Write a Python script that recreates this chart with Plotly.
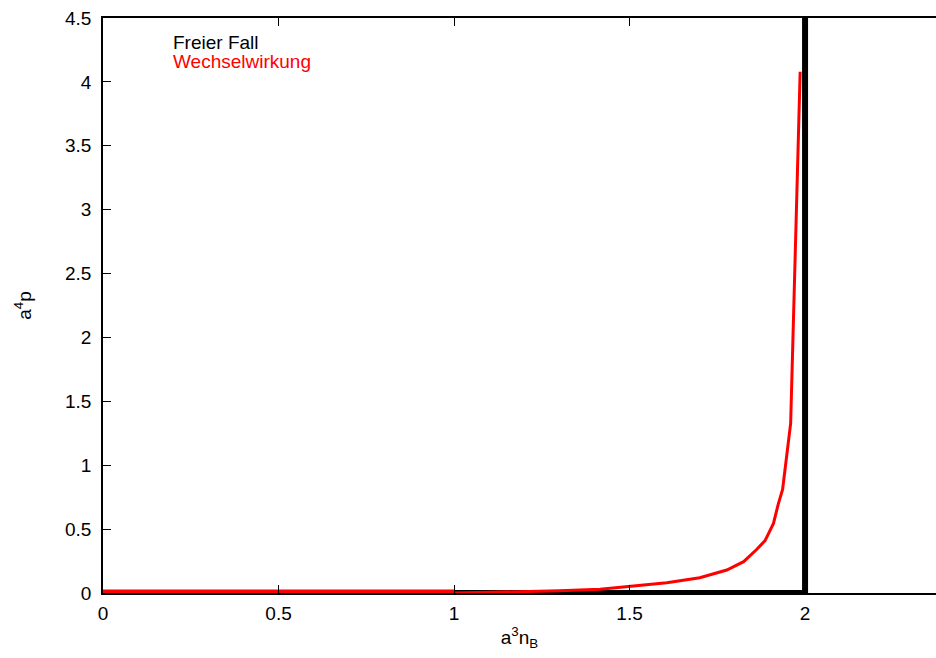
import plotly.graph_objects as go

# Freier Fall (free case)
free_x = [0, 2, 2]
free_y = [0, 0, 4.5]

# Wechselwirkung (interaction) - zero branch and rising branch
inter_zero_x = [0, 1]
inter_zero_y = [0, 0]
inter_x = [1.0, 1.1, 1.2, 1.3, 1.416, 1.5, 1.606, 1.70, 1.777, 1.825, 1.862,
           1.886, 1.91, 1.924, 1.936, 1.959, 1.986]
inter_y = [0.0, 0.004, 0.009, 0.017, 0.03, 0.05, 0.08, 0.12, 0.18, 0.245, 0.34,
           0.41, 0.545, 0.70, 0.81, 1.33, 4.08]

x_ticks = [0, 0.5, 1, 1.5, 2]
x_tick_labels = ["0", "0.5", "1", "1.5", "2"]
y_ticks = [0, 0.5, 1, 1.5, 2, 2.5, 3, 3.5, 4, 4.5]
y_tick_labels = ["0", "0.5", "1", "1.5", "2", "2.5", "3", "3.5", "4", "4.5"]

FONT = "Liberation Sans, Arial, Helvetica, sans-serif"
FS = 19

W, H = 936, 658
L, R, T, B = 103, 0, 18, 65
pw, ph = W - L - R, H - T - B

def px_to_paper(px, py):
    return (px - L) / pw, 1 - (py - T) / ph

fig = go.Figure()
fig.add_trace(go.Scatter(x=free_x, y=free_y, mode="lines", name="Freier Fall",
                         line=dict(color="black", width=6), cliponaxis=False))
fig.add_trace(go.Scatter(x=inter_zero_x, y=inter_zero_y, mode="lines", name="Wechselwirkung",
                         line=dict(color="#ff0000", width=7), cliponaxis=False))
fig.add_trace(go.Scatter(x=inter_x, y=inter_y, mode="lines", name="Wechselwirkung",
                         line=dict(color="#ff0000", width=3), cliponaxis=False))

ax, ay = px_to_paper(171, 43)
fig.add_annotation(x=ax, y=ay, xref="paper", yref="paper", text="Freier Fall",
                   showarrow=False, xanchor="left", yanchor="middle",
                   font=dict(family=FONT, size=FS, color="black"))
ax, ay = px_to_paper(171, 61)
fig.add_annotation(x=ax, y=ay, xref="paper", yref="paper", text="Wechselwirkung",
                   showarrow=False, xanchor="left", yanchor="middle",
                   font=dict(family=FONT, size=FS, color="#ff0000"))

fig.update_layout(
    width=W, height=H,
    margin=dict(l=L, r=R, t=T, b=B),
    plot_bgcolor="white", paper_bgcolor="white",
    showlegend=False,
    font=dict(family=FONT, size=FS, color="black"),
    xaxis=dict(range=[0, 2.373], tickvals=x_ticks, ticktext=x_tick_labels,
               ticks="inside", ticklen=8, tickwidth=1, tickcolor="black",
               showline=True, linecolor="black", linewidth=1.5, mirror="ticks",
               showgrid=False, zeroline=False, ticklabelstandoff=2,
               tickfont=dict(family=FONT, size=FS),
               title=dict(text="a<sup>3</sup>n<sub>B</sub>", standoff=8,
                          font=dict(family=FONT, size=FS))),
    yaxis=dict(range=[0, 4.5], tickvals=y_ticks, ticktext=y_tick_labels,
               ticks="inside", ticklen=8, tickwidth=1, tickcolor="black",
               showline=True, linecolor="black", linewidth=1.5, mirror=False,
               showgrid=False, zeroline=False, ticklabelstandoff=6,
               tickfont=dict(family=FONT, size=FS),
               title=dict(text="a<sup>4</sup>p", standoff=28,
                          font=dict(family=FONT, size=FS))),
)

fig.write_html("out.html", config={"displayModeBar": False},
               post_script="document.body.style.margin='0';document.body.style.overflow='hidden';")
